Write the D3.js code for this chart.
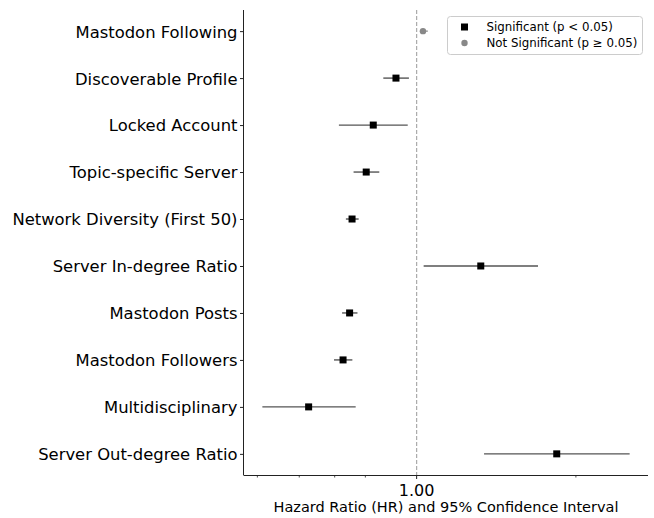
<!DOCTYPE html>
<html><head><meta charset="utf-8">
<script src="https://cdn.jsdelivr.net/npm/d3@7"></script>
<style>body{margin:0;background:#fff}svg{display:block}text{font-family:"DejaVu Sans",sans-serif}</style>
</head><body><svg id="c" width="654" height="518"></svg>
<script>
const categories = ["Mastodon Following","Discoverable Profile","Locked Account","Topic-specific Server","Network Diversity (First 50)","Server In-degree Ratio","Mastodon Posts","Mastodon Followers","Multidisciplinary","Server Out-degree Ratio"];
const hr     = [1.028, 0.914, 0.828, 0.803, 0.755, 1.322, 0.747, 0.726, 0.625, 1.840];
const ciLow  = [1.014, 0.865, 0.713, 0.760, 0.735, 1.031, 0.723, 0.698, 0.511, 1.341];
const ciHigh = [1.050, 0.967, 0.962, 0.850, 0.777, 1.696, 0.773, 0.756, 0.767, 2.527];
const significant = [false,true,true,true,true,true,true,true,true,true];
const majorTicks = [1.0];
const minorTicks = [0.5,0.6,0.7,0.8,2.0];
const legendLabels = ["Significant (p < 0.05)","Not Significant (p \u2265 0.05)"];
const xLabel = "Hazard Ratio (HR) and 95% Confidence Interval";

const svg = d3.select("#c");
const L=244, R=648, T=10, B=475;
const lo = Math.log10(d3.min(ciLow)), hi = Math.log10(d3.max(ciHigh));
const pad = (hi-lo)*0.05;
const x = d3.scaleLog().domain([Math.pow(10,lo-pad), Math.pow(10,hi+pad)]).range([L,R]);
const y = d3.scaleLinear().domain([-0.45, categories.length-1+0.45]).range([T,B]);

// reference line
svg.append("line").attr("x1",x(1)).attr("x2",x(1)).attr("y1",T).attr("y2",B)
  .attr("stroke","#aaa").attr("stroke-width",1.2).attr("stroke-dasharray","4,2");

// CIs
const g = svg.append("g");
categories.forEach((c,i)=>{
  const sig = significant[i];
  g.append("line").attr("x1",x(ciLow[i])).attr("x2",x(ciHigh[i])).attr("y1",y(i)).attr("y2",y(i))
    .attr("stroke", sig ? "#555" : "#999").attr("stroke-width",1.4);
  if (sig) g.append("rect").attr("x",x(hr[i])-3.5).attr("y",y(i)-3.5).attr("width",7).attr("height",7).attr("fill","#000");
  else g.append("circle").attr("cx",x(hr[i])).attr("cy",y(i)).attr("r",3.2).attr("fill","#888");
});

// y axis
const yAx = svg.append("g").attr("transform",`translate(${L-0.5},0)`)
  .call(d3.axisLeft(y).tickValues(d3.range(categories.length)).tickFormat(i=>categories[i]).tickSize(3.5).tickPadding(2.5));
yAx.select(".domain").attr("d",`M0,${T}V${B}`).attr("stroke","#222");
yAx.selectAll("text").attr("font-size",16.4).attr("fill","#000").attr("dy","0.36em");
yAx.selectAll(".tick line").attr("stroke","#222");

// x axis
const xAx = svg.append("g").attr("transform",`translate(0,${B+0.5})`);
xAx.append("line").attr("x1",L-0.5).attr("x2",R).attr("stroke","#222");
xAx.selectAll(".minor").data(minorTicks).join("line").attr("class","minor")
  .attr("x1",d=>x(d)).attr("x2",d=>x(d)).attr("y1",0).attr("y2",2).attr("stroke","#222").attr("stroke-width",0.8);
xAx.selectAll(".major").data(majorTicks).join("line").attr("class","major")
  .attr("x1",d=>x(d)).attr("x2",d=>x(d)).attr("y1",0).attr("y2",3.5).attr("stroke","#222");
xAx.selectAll(".ml").data(majorTicks).join("text").attr("class","ml")
  .attr("x",d=>x(d)).attr("y",20).attr("text-anchor","middle").attr("font-size",16).text(d=>d.toFixed(2));
svg.append("text").attr("x",(L+R)/2).attr("y",512).attr("text-anchor","middle").attr("font-size",14.5).text(xLabel);

// legend
const lg = svg.append("g").attr("transform","translate(447.5,16.5)");
lg.append("rect").attr("width",195).attr("height",38).attr("rx",3).attr("fill","#fff").attr("stroke","#ccc");
lg.append("rect").attr("x",13.5).attr("y",7).attr("width",7).attr("height",7).attr("fill","#000");
lg.append("circle").attr("cx",17).attr("cy",26.5).attr("r",3.2).attr("fill","#888");
legendLabels.forEach((t,i)=>lg.append("text").attr("x",39).attr("y",14.5+i*16).attr("font-size",11.8).text(t));
</script></body></html>
